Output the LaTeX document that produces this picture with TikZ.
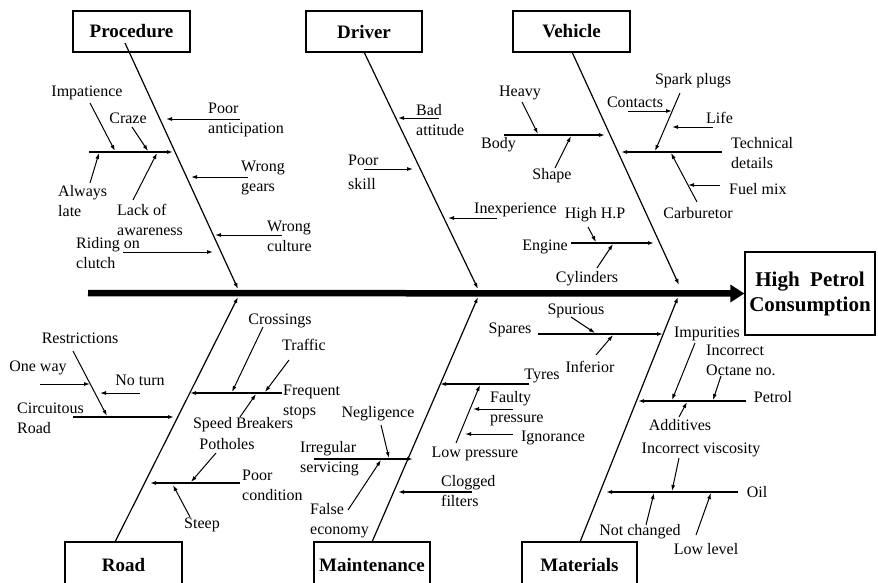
\documentclass[tikz,border=0pt]{standalone}
\usepackage{fontspec}
\setmainfont{Liberation Serif}
\usetikzlibrary{arrows.meta}
\begin{document}
\begin{tikzpicture}[x=1pt,y=-1pt,
  lbl/.style={inner sep=0pt, align=left, font=\fontsize{16}{20}\selectfont},
  catbox/.style={draw, line width=1.3pt, inner sep=0pt, minimum width=117pt,
    minimum height=41pt, font=\bfseries\fontsize{19}{22}\selectfont},
  lowbox/.style={catbox, minimum height=46pt},
  effectbox/.style={draw, line width=1.3pt, inner sep=0pt, minimum width=130pt,
    minimum height=83pt, align=center, font=\bfseries\fontsize{21}{25}\selectfont},
  spine/.style={line width=6.5pt, -{Triangle[length=14pt,width=17pt]}},
  bone/.style={line width=1.2pt, -{Latex[length=6pt,width=4pt]}},
  twig/.style={line width=1.4pt, -{Latex[length=6pt,width=4pt]}},
  arr/.style={line width=1pt, -{Latex[length=6pt,width=4pt]}}]
\useasboundingbox (0,0) rectangle (878,582);
\clip (0,0) rectangle (878,582);

% ---------- category boxes and effect ----------
\node[catbox] (proc) at (131.5,31.5) {Procedure};
\node[catbox, minimum width=116pt] (drv) at (364,31.5) {Driver};
\node[catbox] (veh) at (571.5,31.5) {Vehicle};
\node[lowbox] (road) at (123.5,565) {Road};
\node[lowbox, minimum width=116pt] (mnt) at (372,565) {Maintenance};
\node[lowbox, minimum width=115pt] (mat) at (579.5,565) {Materials};
\node[effectbox] (hpc) at (810,293.5) {High~ Petrol\\Consumption};

% ---------- spine ----------
\coordinate (sp0) at (88,293);
\draw[spine] (sp0) -- (hpc.west);

% ---------- main bones ----------
\coordinate (pb0) at (125,43);   \coordinate (pb1) at (238,289);
\coordinate (db0) at (364,52);   \coordinate (db1) at (478,289);
\coordinate (vb0) at (572,52);   \coordinate (vb1) at (679,285);
\coordinate (rb0) at (115,542);  \coordinate (rb1) at (238,297);
\coordinate (mb0) at (372,542);  \coordinate (mb1) at (478,297);
\coordinate (tb0) at (580,542);  \coordinate (tb1) at (678,297);
\draw[bone] (pb0) -- (pb1);
\draw[bone] (db0) -- (db1);
\draw[bone] (vb0) -- (vb1);
\draw[bone] (rb0) -- (rb1);
\draw[bone] (mb0) -- (mb1);
\draw[bone] (tb0) -- (tb1);

% ---------- Procedure ----------
\node[lbl] (imp) at (87,93) {Impatience};
\node[lbl] (craze) at (128,118) {Craze};
\node[lbl, anchor=west] (late) at (58,201) {Always\\late};
\node[lbl, anchor=west] (lack) at (117,220) {Lack of\\awareness};
\node[lbl, anchor=west] (antic) at (208,120) {Poor\\anticipation};
\node[lbl, anchor=west] (gears) at (241,178) {Wrong\\gears};
\node[lbl, anchor=west] (cult) at (267,236) {Wrong\\culture};
\node[lbl, anchor=west] (clutch) at (76,253) {Riding on\\clutch};
\coordinate (p1a) at (89,152);  \coordinate (p1b) at (173,152);
\coordinate (p2a) at (90,103);  \coordinate (p2b) at (115,151);
\coordinate (p3a) at (132,127); \coordinate (p3b) at (148,151);
\coordinate (p4a) at (90,183);  \coordinate (p4b) at (99,153);
\coordinate (p5a) at (133,200); \coordinate (p5b) at (157,153);
\coordinate (p6a) at (240,119); \coordinate (p6b) at (166,119);
\coordinate (p7a) at (248,177); \coordinate (p7b) at (191,177);
\coordinate (p8a) at (282,235); \coordinate (p8b) at (215,235);
\coordinate (p9a) at (123,252); \coordinate (p9b) at (213,252);
\draw[twig] (p1a) -- (p1b);
\foreach \i in {2,...,9} {\draw[arr] (p\i a) -- (p\i b);}

% ---------- Driver ----------
\node[lbl, anchor=west] (bad) at (416,120) {Bad\\attitude};
\node[lbl, anchor=west] (skill) at (348,172) {Poor\\[4pt]skill};
\node[lbl, anchor=west] (inexp) at (474,210) {Inexperience};
\coordinate (d1a) at (439,118); \coordinate (d1b) at (398,118);
\coordinate (d2a) at (364,169); \coordinate (d2b) at (413,169);
\coordinate (d3a) at (497,218); \coordinate (d3b) at (448,218);
\foreach \i in {1,2,3} {\draw[arr] (d\i a) -- (d\i b);}

% ---------- Vehicle ----------
\node[lbl] (heavy) at (520,93) {Heavy};
\node[lbl, anchor=west] (body) at (481,145) {Body};
\node[lbl] (shape) at (552,176) {Shape};
\node[lbl] (spark) at (693,81) {Spark plugs};
\node[lbl] (cont) at (635,102) {Contacts};
\node[lbl, anchor=west] (life) at (706,118) {Life};
\node[lbl, anchor=west] (tech) at (731,153) {Technical\\details};
\node[lbl, anchor=west] (fuel) at (729,189) {Fuel mix};
\node[lbl] (carb) at (698,213) {Carburetor};
\node[lbl] (hhp) at (595,215) {High H.P};
\node[lbl] (engine) at (545,247) {Engine};
\node[lbl] (cyl) at (587,279) {Cylinders};
\coordinate (v1a) at (504,135); \coordinate (v1b) at (605,135);
\coordinate (v2a) at (722,152); \coordinate (v2b) at (621,152);
\coordinate (v3a) at (571,243); \coordinate (v3b) at (654,243);
\draw[twig] (v1a) -- (v1b);
\draw[twig] (v2a) -- (v2b);
\draw[twig] (v3a) -- (v3b);
\coordinate (v4a) at (522,102); \coordinate (v4b) at (538,134);
\coordinate (v5a) at (555,168); \coordinate (v5b) at (571,136);
\coordinate (v6a) at (680,93);  \coordinate (v6b) at (655,151);
\coordinate (v7a) at (628,111); \coordinate (v7b) at (672,111);
\coordinate (v8a) at (713,127); \coordinate (v8b) at (672,127);
\coordinate (v9a) at (697,202); \coordinate (v9b) at (671,153);
\coordinate (v10a) at (720,185); \coordinate (v10b) at (688,185);
\coordinate (v11a) at (588,227); \coordinate (v11b) at (596,242);
\coordinate (v12a) at (597,268); \coordinate (v12b) at (613,244);
\foreach \i in {4,...,12} {\draw[arr] (v\i a) -- (v\i b);}

% ---------- Road ----------
\node[lbl] (restr) at (80,338) {Restrictions};
\node[lbl] (oneway) at (38,368) {One way};
\node[lbl] (noturn) at (140,380) {No turn};
\node[lbl, anchor=west] (circ) at (17,418) {Circuitous\\Road};
\node[lbl, anchor=west] (freq) at (283,402) {Frequent\\stops};
\node[lbl] (cross) at (280,321) {Crossings};
\node[lbl] (traffic) at (304,345) {Traffic};
\node[lbl] (speed) at (243,425) {Speed Breakers};
\node[lbl] (pot) at (227,444) {Potholes};
\node[lbl, anchor=west] (cond) at (242,485) {Poor\\condition};
\node[lbl] (steep) at (202,525) {Steep};
\coordinate (r1a) at (73,417);  \coordinate (r1b) at (174,417);
\coordinate (r2a) at (282,393); \coordinate (r2b) at (190,393);
\coordinate (r3a) at (240,483); \coordinate (r3b) at (150,483);
\foreach \i in {1,2,3} {\draw[twig] (r\i a) -- (r\i b);}
\coordinate (r4a) at (73,351);  \coordinate (r4b) at (107,416);
\coordinate (r5a) at (40,384);  \coordinate (r5b) at (90,384);
\coordinate (r6a) at (140,393); \coordinate (r6b) at (100,393);
\coordinate (r7a) at (263,327); \coordinate (r7b) at (232,392);
\coordinate (r8a) at (289,360); \coordinate (r8b) at (265,392);
\coordinate (r9a) at (240,417); \coordinate (r9b) at (256,394);
\coordinate (r10a) at (216,453); \coordinate (r10b) at (191,482);
\coordinate (r11a) at (190,517); \coordinate (r11b) at (173,485);
\foreach \i in {4,...,11} {\draw[arr] (r\i a) -- (r\i b);}

% ---------- Maintenance ----------
\node[lbl] (negl) at (378,414) {Negligence};
\node[lbl, anchor=west] (irreg) at (300,459) {Irregular\\servicing};
\node[lbl, anchor=west] (false) at (310,521) {False\\economy};
\node[lbl] (tyres) at (542,376) {Tyres};
\node[lbl] (lowp) at (475,454) {Low pressure};
\node[lbl, anchor=west] (faulty) at (490,409) {Faulty\\pressure};
\node[lbl] (ignor) at (553,438) {Ignorance};
\node[lbl, anchor=west] (clog) at (441,491) {Clogged\\filters};
\coordinate (m1a) at (314,459); \coordinate (m1b) at (413,459);
\coordinate (m2a) at (529,384); \coordinate (m2b) at (440,384);
\coordinate (m3a) at (472,492); \coordinate (m3b) at (398,492);
\foreach \i in {1,2,3} {\draw[twig] (m\i a) -- (m\i b);}
\coordinate (m4a) at (381,425); \coordinate (m4b) at (389,458);
\coordinate (m5a) at (348,510); \coordinate (m5b) at (381,460);
\coordinate (m6a) at (456,443); \coordinate (m6b) at (480,385);
\coordinate (m7a) at (513,409); \coordinate (m7b) at (473,409);
\coordinate (m8a) at (513,434); \coordinate (m8b) at (465,434);
\foreach \i in {4,...,8} {\draw[arr] (m\i a) -- (m\i b);}

% ---------- Materials ----------
\node[lbl] (spares) at (510,330) {Spares};
\node[lbl] (spur) at (576,311) {Spurious};
\node[lbl] (infer) at (590,367) {Inferior};
\node[lbl] (impur) at (707,334) {Impurities};
\node[lbl, anchor=west] (octane) at (706,360) {Incorrect\\Octane no.};
\node[lbl] (petrol) at (773,397) {Petrol};
\node[lbl] (addit) at (680,425) {Additives};
\node[lbl] (visc) at (701,450) {Incorrect viscosity};
\node[lbl] (oil) at (757,492) {Oil};
\node[lbl] (notch) at (640,532) {Not changed};
\node[lbl] (lowlev) at (706,549) {Low level};
\coordinate (t1a) at (538,334); \coordinate (t1b) at (663,334);
\coordinate (t2a) at (746,401); \coordinate (t2b) at (638,401);
\coordinate (t3a) at (738,492); \coordinate (t3b) at (606,492);
\foreach \i in {1,2,3} {\draw[twig] (t\i a) -- (t\i b);}
\coordinate (t4a) at (571,317); \coordinate (t4b) at (595,333);
\coordinate (t5a) at (596,355); \coordinate (t5b) at (613,335);
\coordinate (t6a) at (695,343); \coordinate (t6b) at (672,400);
\coordinate (t7a) at (721,376); \coordinate (t7b) at (713,400);
\coordinate (t8a) at (679,417); \coordinate (t8b) at (687,402);
\coordinate (t9a) at (679,458); \coordinate (t9b) at (672,491);
\coordinate (t10a) at (646,525); \coordinate (t10b) at (654,493);
\coordinate (t11a) at (696,535); \coordinate (t11b) at (711,493);
\foreach \i in {4,...,11} {\draw[arr] (t\i a) -- (t\i b);}
\end{tikzpicture}
\end{document}
